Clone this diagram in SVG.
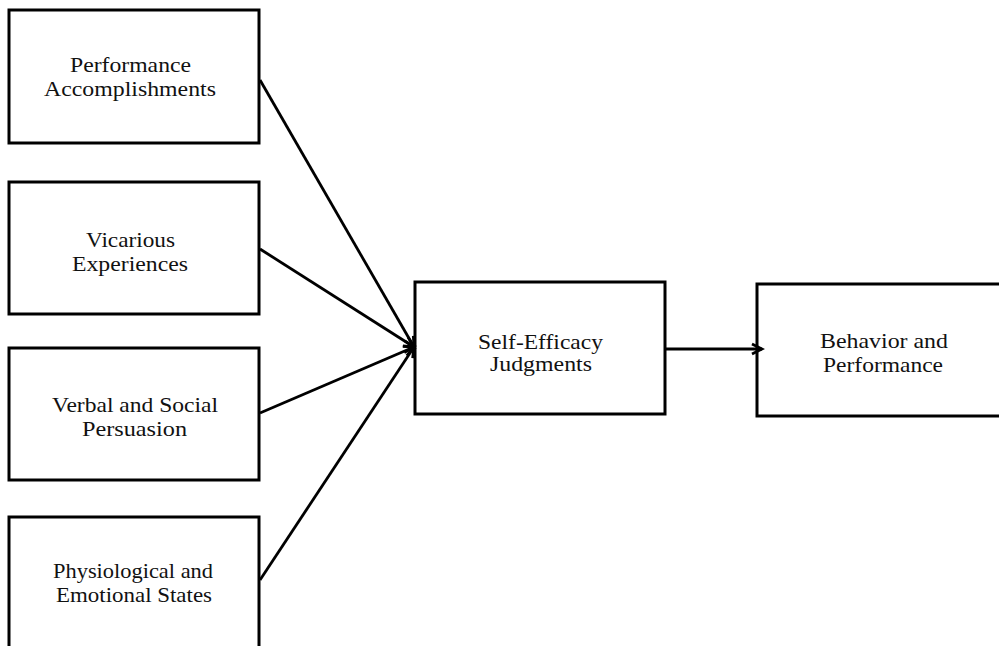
<svg xmlns="http://www.w3.org/2000/svg" width="999" height="646" viewBox="0 0 999 646">
<style>
.box{fill:#fff;stroke:#000;stroke-width:3}
.lbl{font-family:"Liberation Serif","Times New Roman",serif;font-size:21px;fill:#111}
.conn{stroke:#000;stroke-width:2.8;fill:none}
</style>
<defs>
<marker id="arr" markerWidth="14" markerHeight="14" refX="11" refY="7" orient="auto" markerUnits="userSpaceOnUse">
<path d="M1,2 L11,7 L1,12" fill="none" stroke="#000" stroke-width="2.8"/>
</marker>
</defs>
<rect width="999" height="646" fill="#fff"/>
<g id="n1">
<rect class="box" x="9" y="10" width="250" height="133"/>
<text class="lbl" x="70" y="72" textLength="121" lengthAdjust="spacingAndGlyphs">Performance</text>
<text class="lbl" x="44" y="96" textLength="172" lengthAdjust="spacingAndGlyphs">Accomplishments</text>
</g>
<g id="n2">
<rect class="box" x="9" y="182" width="250" height="132"/>
<text class="lbl" x="86" y="247" textLength="89" lengthAdjust="spacingAndGlyphs">Vicarious</text>
<text class="lbl" x="72" y="271" textLength="116" lengthAdjust="spacingAndGlyphs">Experiences</text>
</g>
<g id="n3">
<rect class="box" x="9" y="348" width="250" height="132"/>
<text class="lbl" x="52" y="412" textLength="166" lengthAdjust="spacingAndGlyphs">Verbal and Social</text>
<text class="lbl" x="82" y="436" textLength="105" lengthAdjust="spacingAndGlyphs">Persuasion</text>
</g>
<g id="n4">
<rect class="box" x="9" y="517" width="250" height="140"/>
<text class="lbl" x="53" y="578" textLength="160" lengthAdjust="spacingAndGlyphs">Physiological and</text>
<text class="lbl" x="56" y="602" textLength="156" lengthAdjust="spacingAndGlyphs">Emotional States</text>
</g>
<g id="n5">
<rect class="box" x="415" y="282" width="250" height="132"/>
<text class="lbl" x="478" y="349" textLength="125" lengthAdjust="spacingAndGlyphs">Self-Efficacy</text>
<text class="lbl" x="490" y="371" textLength="102" lengthAdjust="spacingAndGlyphs">Judgments</text>
</g>
<g id="n6">
<rect class="box" x="757" y="284" width="260" height="132"/>
<text class="lbl" x="820" y="348" textLength="128" lengthAdjust="spacingAndGlyphs">Behavior and</text>
<text class="lbl" x="823" y="372" textLength="120" lengthAdjust="spacingAndGlyphs">Performance</text>
</g>
<g id="connectors">
<line class="conn" x1="260" y1="80" x2="414" y2="347" marker-end="url(#arr)"/>
<line class="conn" x1="260" y1="249" x2="414" y2="347" marker-end="url(#arr)"/>
<line class="conn" x1="260" y1="413" x2="414" y2="347" marker-end="url(#arr)"/>
<line class="conn" x1="260" y1="580" x2="414" y2="347" marker-end="url(#arr)"/>
<line class="conn" x1="665" y1="349" x2="762" y2="349" marker-end="url(#arr)"/>
</g>
</svg>
